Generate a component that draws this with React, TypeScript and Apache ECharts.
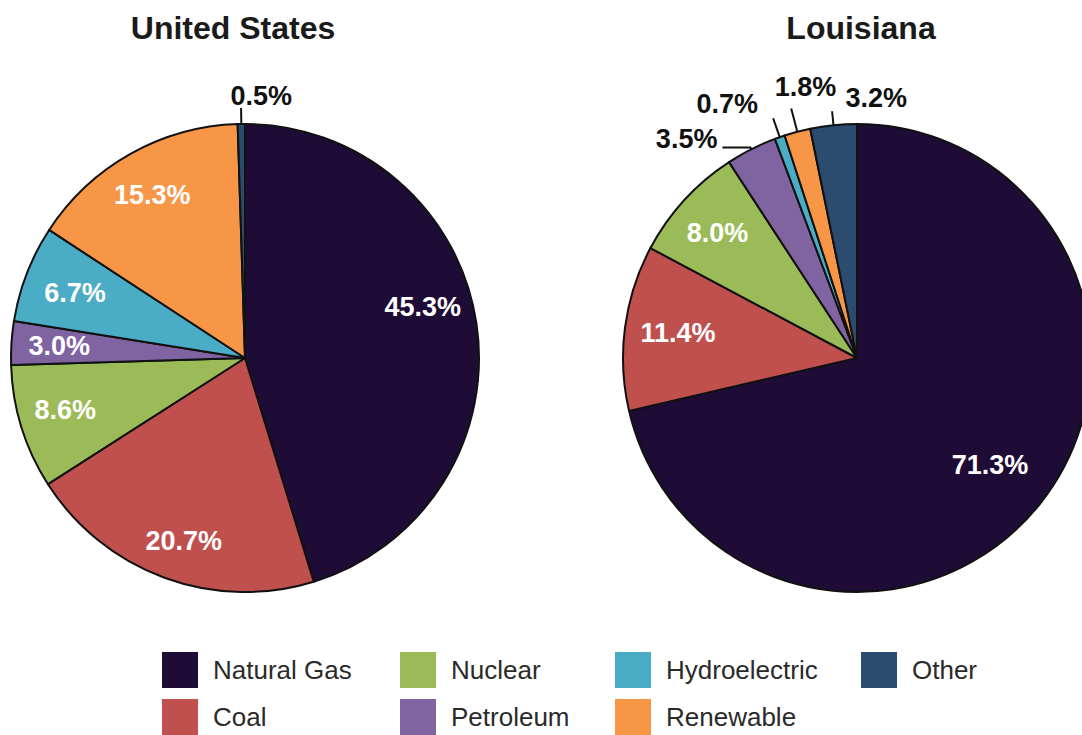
import React, { useEffect, useRef } from "react";
import * as echarts from "echarts";

const categories = ["Natural Gas", "Coal", "Nuclear", "Petroleum", "Hydroelectric", "Renewable", "Other"];
const usValues = [45.3, 20.7, 8.6, 3.0, 6.7, 15.3, 0.5];
const laValues = [71.3, 11.4, 8.0, 3.5, 0.7, 1.8, 3.2];
const titles = ["United States", "Louisiana"];
const colors = ["#1f0c36", "#c0504d", "#9bbb59", "#8064a2", "#4bacc6", "#f79646", "#2b4b6f"];

// label layout tweaks (style only)
const usOutside = [false, false, false, false, false, false, true];
const laOutside = [false, false, false, true, true, true, true];
const usShift: number[][] = [[59, -33], [-20, 70], [-65, 17], [-66, -4], [-58, -22], [-34, -58], [54, -12]];
const laShift: number[][] = [[39, 32], [-60, -9], [-51, -44], [-2, -8], [-12, -14], [48, -22], [78, -13]];
const usLine: number[][] = [[0, 0], [0, 0], [0, 0], [0, 0], [0, 0], [0, 0], [16, 0]];
const laLine: number[][] = [[0, 0], [0, 0], [0, 0], [2, 28], [20, 0], [24, 0], [14, 0]];

const FONT = "'Liberation Sans', Arial, sans-serif";

function buildData(values: number[], outside: boolean[], line: number[][]) {
  return values.map((v, i) => ({
    name: categories[i],
    value: v,
    itemStyle: { color: colors[i] },
    label: outside[i]
      ? { position: "outside", color: "#111", distanceToLabelLine: 3 }
      : { position: "inside", color: "#fff" },
    labelLine: outside[i]
      ? { show: true, length: line[i][0], length2: line[i][1], lineStyle: { color: "#111", width: 2 } }
      : { show: false },
  }));
}

function makeSeries(values: number[], outside: boolean[], line: number[][], shift: number[][], center: number[]) {
  return {
    type: "pie",
    center,
    radius: 234,
    startAngle: 90,
    clockwise: true,
    avoidLabelOverlap: false,
    silent: true,
    itemStyle: { borderColor: "#111", borderWidth: 2 },
    label: {
      show: true,
      formatter: (p: any) => p.value.toFixed(1) + "%",
      fontFamily: FONT,
      fontWeight: "bold",
      fontSize: 27,
    },
    labelLayout: (p: any) => ({ dx: shift[p.dataIndex][0], dy: shift[p.dataIndex][1] }),
    data: buildData(values, outside, line),
  };
}

const legendCols = [
  { left: 162, names: ["Natural Gas", "Coal"] },
  { left: 400, names: ["Nuclear", "Petroleum"] },
  { left: 615, names: ["Hydroelectric", "Renewable"] },
  { left: 861, names: ["Other"] },
];

export default function App() {
  const ref = useRef<HTMLDivElement>(null);
  useEffect(() => {
    if (!ref.current) return;
    const chart = echarts.init(ref.current, null, { renderer: "svg" });
    chart.setOption({
      animation: false,
      backgroundColor: "#fff",
      title: [
        { text: titles[0], left: 228, top: 7, textAlign: "center", textStyle: { fontFamily: FONT, fontWeight: "bold", fontSize: 32, color: "#1a1a1a" } },
        { text: titles[1], left: 856, top: 7, textAlign: "center", textStyle: { fontFamily: FONT, fontWeight: "bold", fontSize: 32, color: "#1a1a1a" } },
      ],
      legend: legendCols.map((c) => ({
        data: c.names,
        orient: "vertical",
        left: c.left,
        top: 652,
        padding: 0,
        itemWidth: 36,
        itemHeight: 36,
        itemGap: 11,
        icon: "rect",
        selectedMode: false,
        itemStyle: { borderWidth: 0 },
        textStyle: { fontFamily: FONT, fontSize: 26, color: "#2a2a2a", padding: [0, 0, 0, 10] },
      })),
      series: [
        makeSeries(usValues, usOutside, usLine, usShift, [245, 358]),
        makeSeries(laValues, laOutside, laLine, laShift, [857, 358]),
      ],
    });
    return () => chart.dispose();
  }, []);
  return <div ref={ref} style={{ position: "absolute", left: 0, top: 0, width: 1082, height: 735 }} />;
}
